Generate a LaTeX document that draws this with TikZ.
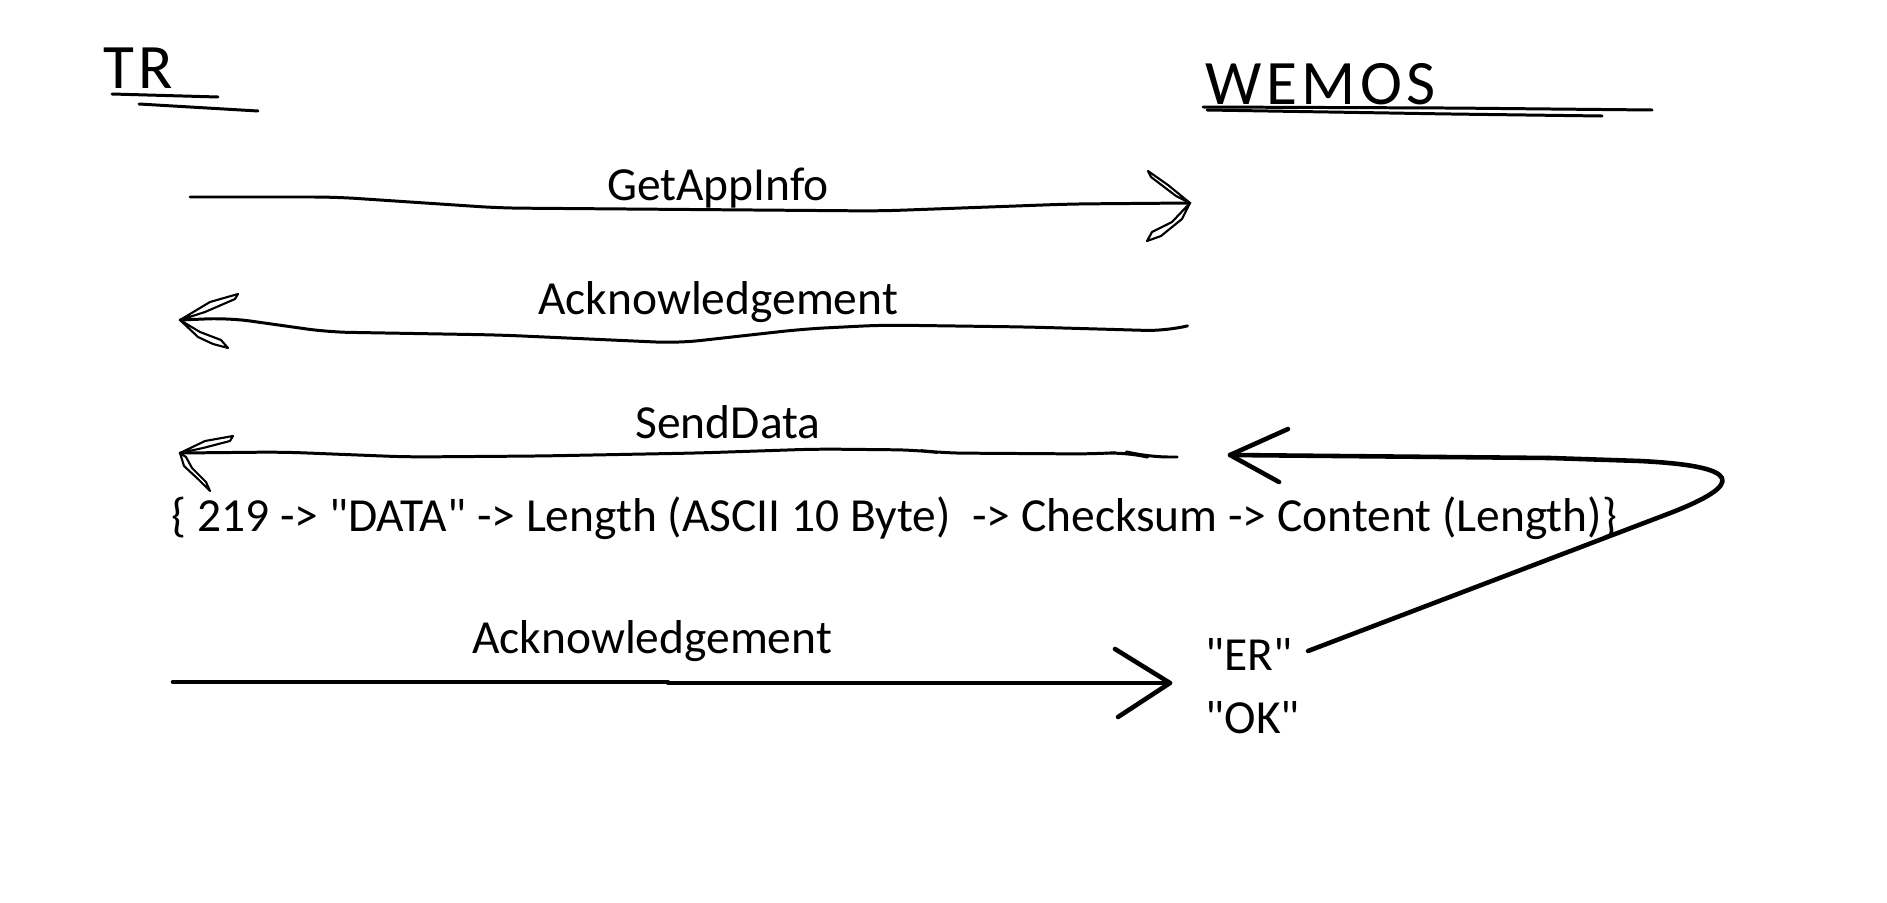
\documentclass[tikz,border=0pt]{standalone}
\usepackage{fontspec}
\setmainfont{Carlito}[Ligatures=TeXOff]
\begin{document}
\begin{tikzpicture}[x=0.01cm, y=-0.01cm, line cap=round, line join=round,
    pen/.style={line width=0.85pt, rounded corners=6pt},
    penthick/.style={line width=1.3pt},
    barb/.style={line width=0.6pt},
    lbl/.style={font=\fontsize{13.5}{16}\selectfont, inner sep=0pt, anchor=base},
    hand/.style={font=\fontsize{18}{20}\selectfont\addfontfeature{LetterSpace=7}, inner sep=0pt, anchor=base west}]
    \useasboundingbox (0,0) rectangle (1887,903);

    %teilnehmer
    \node[hand] (tr) at (103,88) {TR};
    \node[hand] (wemos) at (1205,104) {WEMOS};
    \draw[pen] (112,94) -- (218,97);
    \draw[pen] (139,104) -- (190,107) -- (258,111);
    \draw[pen] (1203,107) -- (1450,108) -- (1652,110);
    \draw[pen] (1207,110) -- (1450,114) -- (1602,116);

    %GetAppInfo
    \coordinate (getFrom) at (190,197);
    \coordinate (getTo) at (1190,203);
    \draw[pen] (getFrom) -- (335,197) -- (500,208) -- (880,211) -- (1070,204) -- (getTo);
    \draw[barb] (getTo) -- (1168,185) -- (1148,171) -- (1151,177) -- (1176,196) -- cycle;
    \draw[barb] (getTo) -- (1172,222) -- (1152,232) -- (1147,241) -- (1161,236) -- (1182,219) -- cycle;
    \node[lbl] (getLbl) at (718,200) {GetAppInfo};

    %Acknowledgement
    \coordinate (ackFrom) at (1187,326);
    \coordinate (ackTo) at (180,320);
    \draw[pen] (ackFrom) -- (1167,331) -- (1028,327) -- (883,325) -- (804,329) -- (678,343)
        -- (500,335) -- (328,332) -- (229,318) -- (ackTo);
    \draw[barb] (ackTo) -- (210,302) -- (238,294) -- (235,299) -- (205,312) -- cycle;
    \draw[barb] (ackTo) -- (198,337) -- (213,344) -- (228,348) -- (221,340) -- (200,332) -- cycle;
    \node[lbl] (ackLbl) at (718,314) {Acknowledgement};

    %SendData
    \coordinate (sendFrom) at (1177,457);
    \coordinate (sendTo) at (180,453);
    \draw[pen] (sendFrom) -- (1147,457) -- (1127,452) -- (1094,454) -- (942,453) -- (916,450)
        -- (817,449) -- (698,453) -- (540,456) -- (408,457) -- (282,452) -- (sendTo);
    \draw[barb] (sendTo) -- (205,441) -- (233,436) -- (230,441) -- (203,448) -- cycle;
    \draw[barb] (sendTo) -- (184,466) -- (198,479) -- (210,491) -- (206,482) -- (192,468) -- (186,457) -- cycle;
    \node[lbl] (sendLbl) at (728,438) {SendData};
    \node[lbl, anchor=base west] (frame) at (171,531)
        {\{ 219 -> "DATA" -> Length (ASCII 10 Byte)~ -> Checksum -> Content (Length)\}};

    %Acknowledgement mit Antwort
    \coordinate (okFrom) at (173,682);
    \coordinate (okTo) at (1170,683);
    \draw[penthick] (okFrom) -- (668,682) -- (668,683) -- (okTo);
    \draw[penthick] (1115,649) -- (okTo) -- (1118,717);
    \node[lbl] (ack2Lbl) at (652,653) {Acknowledgement};
    \node[lbl, anchor=base west] (er) at (1205,670) {"ER"};
    \node[lbl, anchor=base west] (ok) at (1205,733) {"OK"};

    %zurueck zu SendData
    \coordinate (loopFrom) at (1308,651);
    \coordinate (loopTo) at (1230,455);
    \draw[penthick] (loopFrom) -- (1665,515) .. controls (1750,483) and (1740,466) .. (1640,461)
        -- (1550,458) -- (loopTo);
    \draw[penthick] (1288,429) -- (loopTo) -- (1279,482);
\end{tikzpicture}
\end{document}
